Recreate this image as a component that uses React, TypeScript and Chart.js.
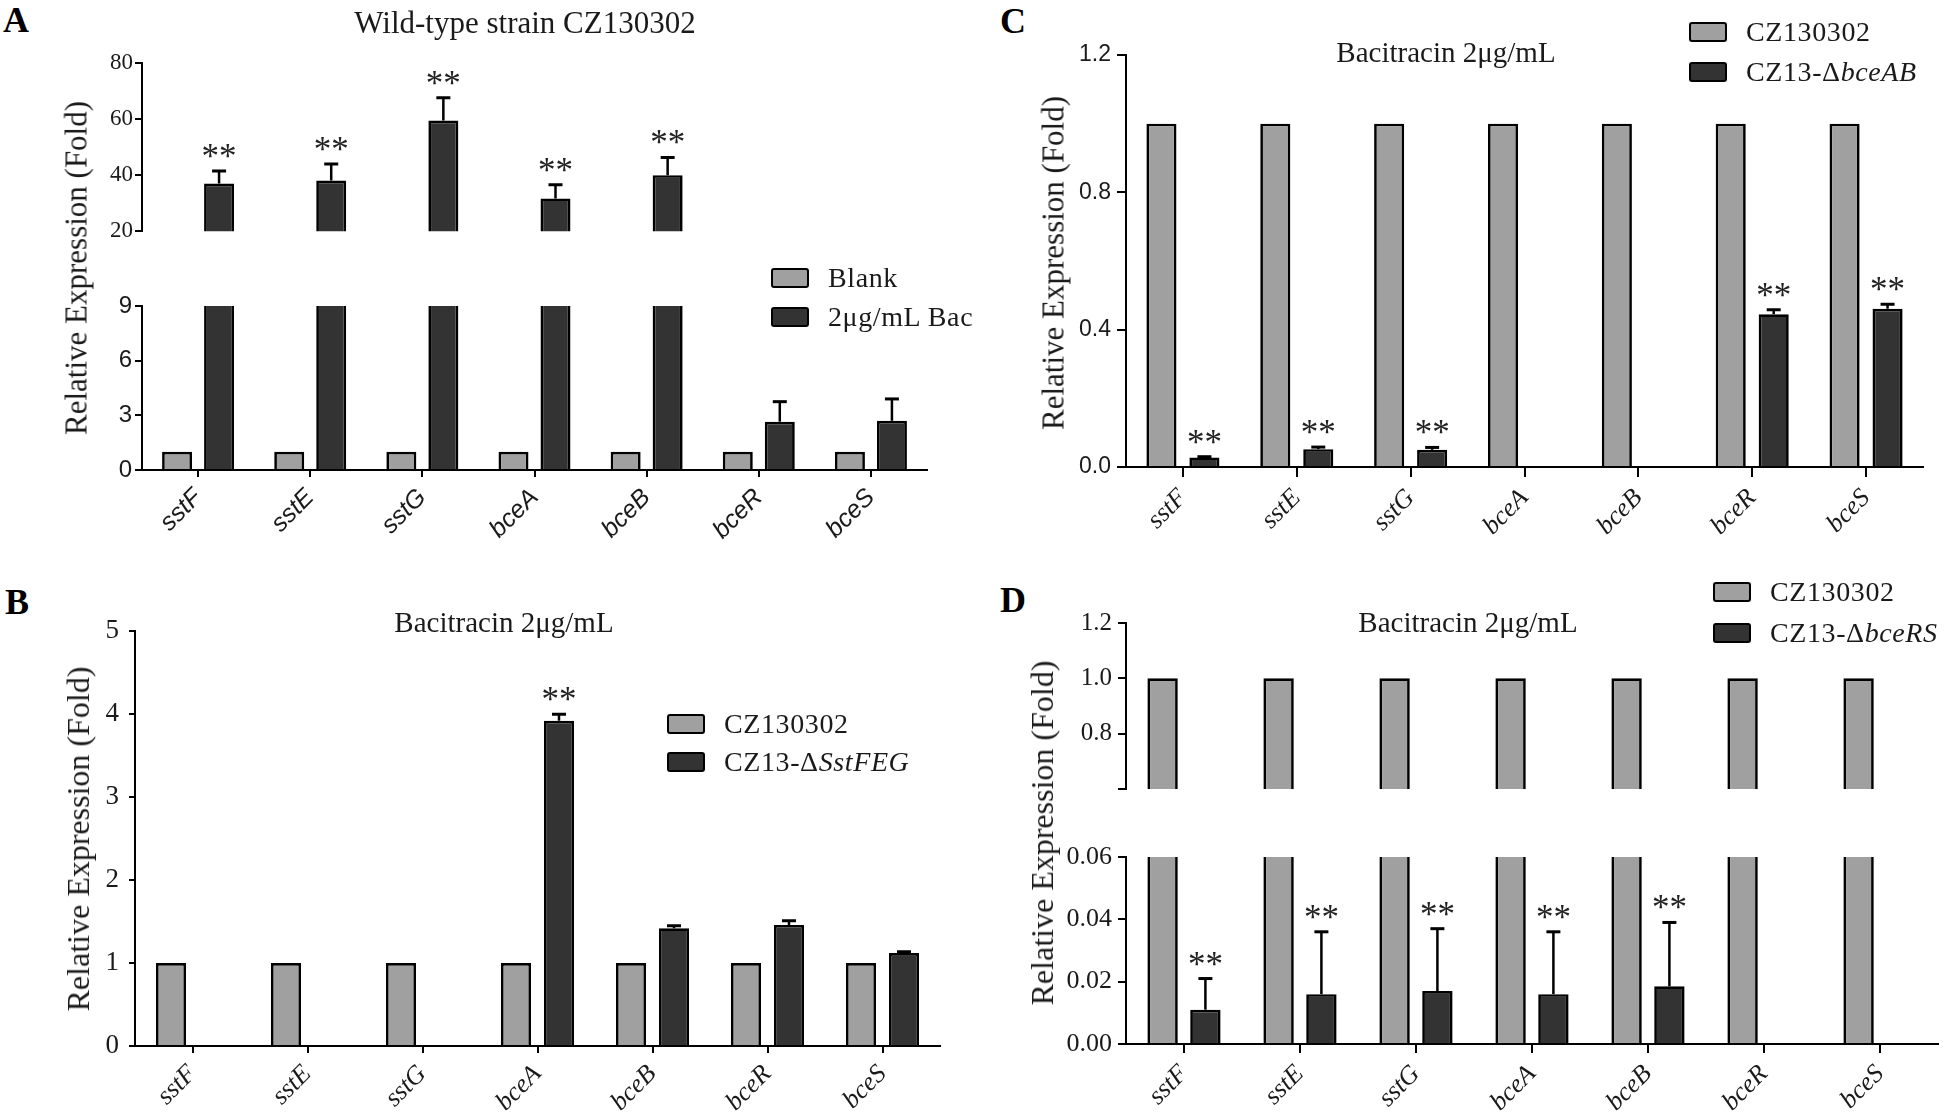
import React, { useEffect, useRef } from "react";
import { Chart, registerables } from "chart.js";
Chart.register(...registerables);

// ---------------- data ----------------
const categories = ["sstF", "sstE", "sstG", "bceA", "bceB", "bceR", "bceS"];

// Panel A – wild-type strain, blank vs bacitracin
const blankA = [1, 1, 1, 1, 1, 1, 1];
const bacA = [37, 38.1, 59.5, 31.7, 40, 2.65, 2.7];
const bacAErr = [4.5, 5.9, 8.1, 4.9, 6.3, 1.1, 1.2];
const sigA = ["**", "**", "**", "**", "**", "", ""];
const yTicksAUpper = [20, 40, 60, 80];
const yLabelsAUpper = ["20", "40", "60", "80"];
const yTicksALower = [0, 3, 6, 9];
const yLabelsALower = ["0", "3", "6", "9"];
const legendA = ["Blank", "2μg/mL Bac"];

// Panel B – ΔSstFEG
const wtB = [1, 1, 1, 1, 1, 1, 1];
const mutB = [null, null, null, 3.92, 1.42, 1.46, 1.12];
const mutBErr = [0, 0, 0, 0.08, 0.03, 0.05, 0.015];
const sigB = ["", "", "", "**", "", "", ""];
const yTicksB = [0, 1, 2, 3, 4, 5];
const yLabelsB = ["0", "1", "2", "3", "4", "5"];
const legendB = [["CZ130302", ""], ["CZ13-Δ", "SstFEG"]];

// Panel C – ΔbceAB
const wtC = [1, 1, 1, 1, 1, 1, 1];
const mutC = [0.028, 0.052, 0.05, null, null, 0.445, 0.461];
const mutCErr = [0.002, 0.006, 0.007, 0, 0, 0.013, 0.013];
const sigC = ["**", "**", "**", "", "", "**", "**"];
const yTicksC = [0, 0.4, 0.8, 1.2];
const yLabelsC = ["0.0", "0.4", "0.8", "1.2"];
const legendC = [["CZ130302", ""], ["CZ13-Δ", "bceAB"]];

// Panel D – ΔbceRS
const wtD = [1, 1, 1, 1, 1, 1, 1];
const mutD = [0.011, 0.016, 0.017, 0.016, 0.0185, null, null];
const mutDErr = [0.01, 0.02, 0.02, 0.02, 0.0205, 0, 0];
const sigD = ["**", "**", "**", "**", "**", "", ""];
const yTicksDUpper = [0.6, 0.8, 1.0, 1.2];
const yLabelsDUpper = ["", "0.8", "1.0", "1.2"];
const yTicksDLower = [0, 0.02, 0.04, 0.06];
const yLabelsDLower = ["0.00", "0.02", "0.04", "0.06"];
const legendD = [["CZ130302", ""], ["CZ13-Δ", "bceRS"]];

const titleA = "Wild-type strain CZ130302";
const titleBCD = "Bacitracin 2μg/mL";
const yTitle = "Relative Expression (Fold)";

// ---------------- styling ----------------
const GREY = "#a0a0a0";
const DARK = "#333333";
const SERIF = "'Liberation Serif', 'Times New Roman', serif";
const SANS = "'Liberation Sans', Arial, sans-serif";
const INK = "#1a1a1a";

type Series = { label: string; data: (number | null)[]; err?: number[]; color: string };
type Spec = {
  rect: [number, number, number, number];
  showX: boolean;
  xH: number;
  yTicks: number[];
  yLabels: string[];
  yFont: any;
  yTickLen: number;
  yPad: number;
  xFont?: any;
  xTickLen?: number;
  xPad?: number;
  series: Series[];
  sig?: string[];
  catPct: number;
  barPct: number;
};

const Y_W = 100;
const PAD_T = 24;
const PAD_R = 12;

function BarChart({ spec }: { spec: Spec }) {
  const ref = useRef<HTMLCanvasElement | null>(null);
  const [l, t, r, b] = spec.rect;
  const padB = spec.showX ? 0 : 4;
  const left = l - Y_W;
  const top = t - PAD_T;
  const width = Y_W + (r - l) + PAD_R;
  const height = PAD_T + (b - t) + (spec.showX ? spec.xH : 0) + padB;

  useEffect(() => {
    const errPlugin = {
      id: "errbars",
      afterDatasetsDraw(chart: any) {
        const ctx = chart.ctx;
        const area = chart.chartArea;
        const ys = chart.scales.y;
        ctx.save();
        ctx.beginPath();
        ctx.rect(area.left, area.top - 3, area.right - area.left, area.bottom - area.top + 3);
        ctx.clip();
        spec.series.forEach((s, di) => {
          if (!s.err) return;
          const meta = chart.getDatasetMeta(di);
          meta.data.forEach((bar: any, i: number) => {
            const v = s.data[i];
            const e = s.err ? s.err[i] : 0;
            if (v == null || !e) return;
            const x = bar.x;
            const y0 = ys.getPixelForValue(v);
            const y1 = ys.getPixelForValue(v + e);
            ctx.strokeStyle = "#000";
            ctx.lineWidth = 2.5;
            ctx.beginPath();
            ctx.moveTo(x, y0);
            ctx.lineTo(x, y1);
            ctx.stroke();
            ctx.lineWidth = 3;
            ctx.beginPath();
            ctx.moveTo(x - 7, y1);
            ctx.lineTo(x + 7, y1);
            ctx.stroke();
          });
        });
        ctx.restore();
        if (spec.sig) {
          const di = spec.series.length - 1;
          const s = spec.series[di];
          const meta = chart.getDatasetMeta(di);
          ctx.save();
          ctx.font = `35px ${SERIF}`;
          ctx.fillStyle = "#222";
          ctx.textAlign = "center";
          ctx.textBaseline = "alphabetic";
          meta.data.forEach((bar: any, i: number) => {
            const txt = spec.sig![i];
            const v = s.data[i];
            if (!txt || v == null) return;
            const e = s.err ? s.err[i] : 0;
            const yTop = ys.getPixelForValue(v + (e || 0));
            ctx.fillText(txt, bar.x, yTop - 3);
          });
          ctx.restore();
        }
      },
    };

    const chart = new Chart(ref.current as HTMLCanvasElement, {
      type: "bar",
      data: {
        labels: categories,
        datasets: spec.series.map((s) => ({
          label: s.label,
          data: s.data as any,
          backgroundColor: s.color,
          borderColor: "#000",
          borderWidth: 2.7,
          borderSkipped: "start",
          categoryPercentage: spec.catPct,
          barPercentage: spec.barPct,
          clip: 0,
        })),
      },
      options: {
        responsive: false,
        animation: false,
        devicePixelRatio: 1,
        layout: { padding: { top: PAD_T, right: PAD_R, bottom: padB, left: 0 } },
        plugins: {
          legend: { display: false },
          title: { display: false },
          tooltip: { enabled: false },
        },
        scales: {
          x: {
            display: spec.showX,
            offset: true,
            z: 1,
            grid: {
              offset: false,
              drawOnChartArea: false,
              drawTicks: true,
              tickLength: spec.xTickLen || 8,
              color: "#000",
              lineWidth: 2,
            },
            border: { display: true, color: "#000", width: 2 },
            ticks: {
              autoSkip: false,
              maxRotation: 45,
              minRotation: 45,
              font: spec.xFont,
              color: INK,
              padding: spec.xPad ?? 6,
            },
            afterFit: (s: any) => {
              if (spec.showX) s.height = spec.xH;
            },
          },
          y: {
            min: spec.yTicks[0],
            max: spec.yTicks[spec.yTicks.length - 1],
            z: 1,
            grid: {
              drawOnChartArea: false,
              drawTicks: true,
              tickLength: spec.yTickLen,
              color: "#000",
              lineWidth: 2,
            },
            border: { display: true, color: "#000", width: 2 },
            ticks: {
              font: spec.yFont,
              color: INK,
              padding: spec.yPad,
              callback: (_v: any, i: number) => spec.yLabels[i],
            },
            afterBuildTicks: (s: any) => {
              s.ticks = spec.yTicks.map((v) => ({ value: v }));
            },
            afterFit: (s: any) => {
              s.width = Y_W;
            },
          },
        },
      } as any,
      plugins: [errPlugin],
    });
    return () => chart.destroy();
  }, []);

  return (
    <canvas
      ref={ref}
      width={width}
      height={height}
      style={{ position: "absolute", left, top, width, height }}
    />
  );
}

function Legend({ x, y, gap, items }: { x: number; y: number; gap: number; items: { color: string; parts: string[] }[] }) {
  return (
    <>
      {items.map((it, i) => (
        <React.Fragment key={i}>
          <div
            style={{
              position: "absolute",
              left: x,
              top: y + i * gap,
              width: 38,
              height: 20,
              boxSizing: "border-box",
              border: "2.5px solid #000",
              borderRadius: 3,
              background: it.color,
            }}
          />
          <div
            style={{
              position: "absolute",
              left: x + 57,
              top: y + i * gap + 10,
              transform: "translateY(-50%)",
              fontFamily: SERIF,
              fontSize: 28,
              lineHeight: 1,
              letterSpacing: 0.6,
              whiteSpace: "nowrap",
              color: INK,
            }}
          >
            {it.parts[0]}
            {it.parts[1] ? <i>{it.parts[1]}</i> : null}
          </div>
        </React.Fragment>
      ))}
    </>
  );
}

function Center({ x, y, size, text, rotate }: { x: number; y: number; size: number; text: string; rotate?: boolean }) {
  return (
    <div
      style={{
        position: "absolute",
        left: x,
        top: y,
        transform: `translate(-50%, -50%)${rotate ? " rotate(-90deg)" : ""}`,
        fontFamily: SERIF,
        fontSize: size,
        lineHeight: 1,
        whiteSpace: "nowrap",
        color: INK,
      }}
    >
      {text}
    </div>
  );
}

function Letter({ x, baseline, text }: { x: number; baseline: number; text: string }) {
  const size = 36;
  return (
    <div
      style={{
        position: "absolute",
        left: x,
        top: baseline - 0.8375 * size,
        fontFamily: SERIF,
        fontWeight: "bold",
        fontSize: size,
        lineHeight: 1,
        color: "#000",
      }}
    >
      {text}
    </div>
  );
}

export default function App() {
  const xSans = { family: SANS, size: 25, style: "italic" };
  const xSerif = { family: SERIF, size: 26, style: "italic" };

  const specs: Spec[] = [
    // A upper
    {
      rect: [142, 63, 927, 243],
      showX: false,
      xH: 0,
      yTicks: yTicksAUpper,
      yLabels: yLabelsAUpper,
      yFont: { family: SERIF, size: 23 },
      yTickLen: 7,
      yPad: 2,
      series: [
        { label: legendA[0], data: blankA, color: GREY },
        { label: legendA[1], data: bacA, err: bacAErr, color: DARK },
      ],
      sig: sigA,
      catPct: 0.749,
      barPct: 0.714,
    },
    // A lower
    {
      rect: [142, 306, 927, 470],
      showX: true,
      xH: 100,
      yTicks: yTicksALower,
      yLabels: yLabelsALower,
      yFont: { family: SANS, size: 24 },
      yTickLen: 7,
      yPad: 3,
      xFont: xSans,
      xTickLen: 7,
      xPad: 6,
      series: [
        { label: legendA[0], data: blankA, color: GREY },
        { label: legendA[1], data: bacA, err: bacAErr, color: DARK },
      ],
      catPct: 0.749,
      barPct: 0.714,
    },
    // B
    {
      rect: [135, 629, 940, 1046],
      showX: true,
      xH: 74,
      yTicks: yTicksB,
      yLabels: yLabelsB,
      yFont: { family: SERIF, size: 27 },
      yTickLen: 6,
      yPad: 10,
      xFont: xSerif,
      xTickLen: 7,
      xPad: 6,
      series: [
        { label: legendB[0].join(""), data: wtB, color: GREY },
        { label: legendB[1].join(""), data: mutB, err: mutBErr, color: DARK },
      ],
      sig: sigB,
      catPct: 0.748,
      barPct: 0.7,
    },
    // C
    {
      rect: [1126, 55, 1923, 467],
      showX: true,
      xH: 100,
      yTicks: yTicksC,
      yLabels: yLabelsC,
      yFont: { family: SANS, size: 23 },
      yTickLen: 9,
      yPad: 6,
      xFont: xSerif,
      xTickLen: 10,
      xPad: 6,
      series: [
        { label: legendC[0].join(""), data: wtC, color: GREY },
        { label: legendC[1].join(""), data: mutC, err: mutCErr, color: DARK },
      ],
      sig: sigC,
      catPct: 0.755,
      barPct: 0.7,
    },
    // D upper
    {
      rect: [1126, 623, 1938, 806],
      showX: false,
      xH: 0,
      yTicks: yTicksDUpper,
      yLabels: yLabelsDUpper,
      yFont: { family: SERIF, size: 25 },
      yTickLen: 8,
      yPad: 6,
      series: [
        { label: legendD[0].join(""), data: wtD, color: GREY },
        { label: legendD[1].join(""), data: mutD, err: mutDErr, color: DARK },
      ],
      catPct: 0.738,
      barPct: 0.71,
    },
    // D lower
    {
      rect: [1126, 857, 1938, 1044],
      showX: true,
      xH: 76,
      yTicks: yTicksDLower,
      yLabels: yLabelsDLower,
      yFont: { family: SERIF, size: 26 },
      yTickLen: 8,
      yPad: 6,
      xFont: xSerif,
      xTickLen: 9,
      xPad: 6,
      series: [
        { label: legendD[0].join(""), data: wtD, color: GREY },
        { label: legendD[1].join(""), data: mutD, err: mutDErr, color: DARK },
      ],
      sig: sigD,
      catPct: 0.738,
      barPct: 0.71,
    },
  ];

  return (
    <div
      style={{
        position: "absolute",
        left: 0,
        top: 0,
        width: 1946,
        height: 1120,
        overflow: "hidden",
        background: "#fff",
      }}
    >
      {specs.map((s, i) => (
        <BarChart key={i} spec={s} />
      ))}

      <Letter x={3} baseline={32} text="A" />
      <Letter x={1000} baseline={33} text="C" />
      <Letter x={5} baseline={614} text="B" />
      <Letter x={1000} baseline={612} text="D" />

      <Center x={525} y={22} size={31} text={titleA} />
      <Center x={504} y={622} size={29} text={titleBCD} />
      <Center x={1446} y={52} size={29} text={titleBCD} />
      <Center x={1468} y={622} size={29} text={titleBCD} />

      <Center x={76} y={268} size={31} text={yTitle} rotate />
      <Center x={78} y={839} size={32} text={yTitle} rotate />
      <Center x={1053} y={263} size={31} text={yTitle} rotate />
      <Center x={1042} y={833} size={32} text={yTitle} rotate />

      <Legend
        x={771}
        y={268}
        gap={38.5}
        items={[
          { color: GREY, parts: [legendA[0], ""] },
          { color: DARK, parts: [legendA[1], ""] },
        ]}
      />
      <Legend
        x={667}
        y={714}
        gap={38}
        items={[
          { color: GREY, parts: legendB[0] },
          { color: DARK, parts: legendB[1] },
        ]}
      />
      <Legend
        x={1689}
        y={22}
        gap={40}
        items={[
          { color: GREY, parts: legendC[0] },
          { color: DARK, parts: legendC[1] },
        ]}
      />
      <Legend
        x={1713}
        y={582}
        gap={41}
        items={[
          { color: GREY, parts: legendD[0] },
          { color: DARK, parts: legendD[1] },
        ]}
      />
    </div>
  );
}
